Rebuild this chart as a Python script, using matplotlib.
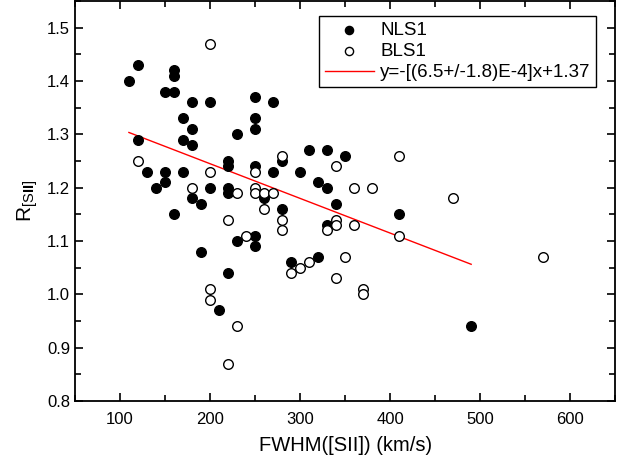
import matplotlib
matplotlib.use("Agg")
import matplotlib.pyplot as plt
import numpy as np
from matplotlib.ticker import MultipleLocator

plt.rcParams['font.family'] = ['Liberation Sans', 'DejaVu Sans']
plt.rcParams['mathtext.fontset'] = 'custom'
plt.rcParams['mathtext.rm'] = 'Liberation Sans'
plt.rcParams['mathtext.bf'] = 'Liberation Sans:bold'

# NLS1 (filled)
nls1_fwhm = [110, 120, 160, 160, 150, 160, 180, 200, 170, 180, 250, 270, 250, 250,
             230, 170, 120, 180, 130, 150, 170, 140, 150, 160, 200, 180, 190, 220,
             220, 220, 220, 250, 270, 280, 300, 310, 320, 330, 330, 260, 280, 340,
             330, 350, 410, 230, 250, 250, 190, 220, 210, 290, 320, 490]
nls1_r = [1.40, 1.43, 1.42, 1.41, 1.38, 1.38, 1.36, 1.36, 1.33, 1.31, 1.37, 1.36, 1.33, 1.31,
          1.30, 1.29, 1.29, 1.28, 1.23, 1.23, 1.23, 1.20, 1.21, 1.15, 1.20, 1.18, 1.17, 1.25,
          1.24, 1.20, 1.19, 1.24, 1.23, 1.25, 1.23, 1.27, 1.21, 1.27, 1.20, 1.18, 1.16, 1.17,
          1.13, 1.26, 1.15, 1.10, 1.11, 1.09, 1.08, 1.04, 0.97, 1.06, 1.07, 0.94]

# BLS1 (open)
bls1_fwhm = [200, 120, 180, 200, 230, 250, 250, 250, 260, 270, 260, 280, 220, 280,
             280, 340, 360, 380, 410, 470, 240, 340, 340, 330, 360, 410, 350, 290,
             300, 310, 340, 370, 370, 200, 200, 230, 220, 570]
bls1_r = [1.47, 1.25, 1.20, 1.23, 1.19, 1.23, 1.20, 1.19, 1.19, 1.19, 1.16, 1.26, 1.14, 1.14,
          1.12, 1.24, 1.20, 1.20, 1.26, 1.18, 1.11, 1.14, 1.13, 1.12, 1.13, 1.11, 1.07, 1.04,
          1.05, 1.06, 1.03, 1.01, 1.00, 1.01, 0.99, 0.94, 0.87, 1.07]

# linear fit
fit_x = [110, 490]
fit_slope = -6.5e-4
fit_intercept = 1.375

fig = plt.figure(figsize=(6.24, 4.67), dpi=100)
ax = fig.add_axes([0.12, 0.141, 0.866, 0.857])

ax.scatter(nls1_fwhm, nls1_r, s=48, facecolor='black', edgecolor='black',
           linewidth=1.0, label='NLS1', zorder=3)
ax.scatter(bls1_fwhm, bls1_r, s=48, facecolor='white', edgecolor='black',
           linewidth=1.0, label='BLS1', zorder=3)
fx = np.array(fit_x)
ax.plot(fx, fit_slope * fx + fit_intercept, color='red', lw=1.0,
        label='y=-[(6.5+/-1.8)E-4]x+1.37', zorder=2)

ax.set_xlim(50, 650)
ax.set_ylim(0.8, 1.55)
ax.xaxis.set_major_locator(MultipleLocator(100))
ax.xaxis.set_minor_locator(MultipleLocator(50))
ax.yaxis.set_major_locator(MultipleLocator(0.1))
ax.yaxis.set_minor_locator(MultipleLocator(0.05))
ax.yaxis.set_major_formatter(matplotlib.ticker.FormatStrFormatter('%.1f'))
ax.tick_params(which='both', direction='in', top=True, right=True, width=1.2,
               labelsize=12)
ax.tick_params(which='major', length=6)
ax.tick_params(which='minor', length=4)
ax.tick_params(axis='x', pad=8)
for sp in ax.spines.values():
    sp.set_linewidth(1.3)

ax.set_xlabel('FWHM([SII]) (km/s)', fontsize=14.5, labelpad=6)
ax.set_ylabel(r'R$_{[\mathrm{S}\mathbf{II}]}$', fontsize=15, labelpad=5)

leg = ax.legend(loc='upper right', bbox_to_anchor=(0.965, 0.962), fontsize=13.5,
                frameon=True, fancybox=False, edgecolor='black', framealpha=1,
                handlelength=2.6, markerscale=0.85, borderpad=0.3,
                labelspacing=0.22, handletextpad=0.35, borderaxespad=0.0)
leg.get_frame().set_linewidth(1.0)

fig.savefig('out.png', dpi=100)
